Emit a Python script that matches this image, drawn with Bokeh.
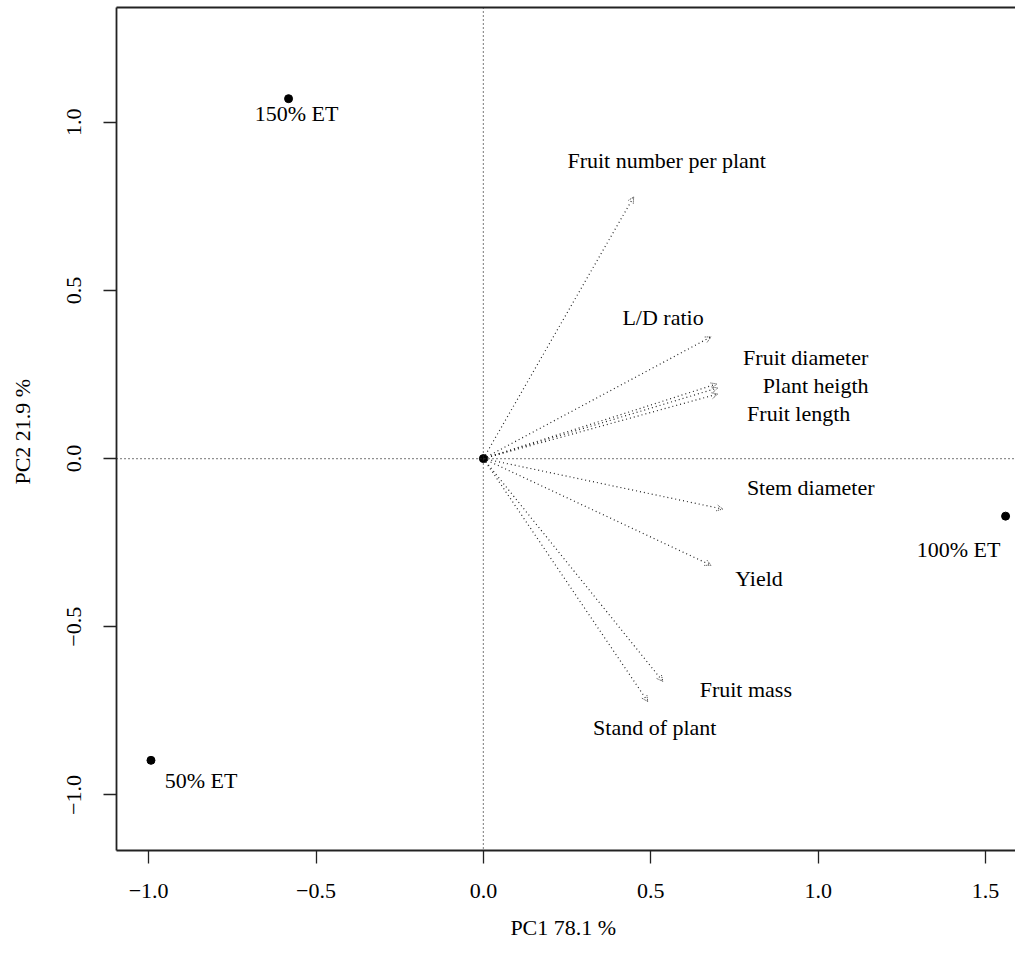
from bokeh.plotting import figure
from bokeh.models import (Arrow, OpenHead, LinearAxis, FixedTicker, Range1d,
                          ColumnDataSource, CustomJSTickFormatter, Span)
from bokeh.core.properties import value
from bokeh.embed import file_html
from bokeh.resources import INLINE

# ---- data ----
obs_names = ["150% ET", "50% ET", "100% ET"]
obs_pc1 = [-0.582, -0.993, 1.560]
obs_pc2 = [1.070, -0.897, -0.171]

var_names = ["Fruit number per plant", "L/D ratio", "Fruit diameter", "Plant heigth",
             "Fruit length", "Stem diameter", "Yield", "Fruit mass", "Stand of plant"]
var_pc1 = [0.449, 0.680, 0.697, 0.700, 0.700, 0.715, 0.680, 0.536, 0.491]
var_pc2 = [0.778, 0.362, 0.222, 0.210, 0.192, -0.150, -0.317, -0.662, -0.722]

x_ticks = [-1.0, -0.5, 0.0, 0.5, 1.0, 1.5]
y_ticks = [-1.0, -0.5, 0.0, 0.5, 1.0]
x_label = "PC1  78.1 %"
y_label = "PC2  21.9 %"

# ---- label placement (screen px offsets, styling only) ----
obs_dx = [8, 50, -47]
obs_dy = [15, 20, 33]
var_dx = [33, -48, 89, 98, 81, 88, 48, 83, 7]
var_dy = [-36, -19, -26, -2, 19, -22, 13, 8, 26]

FONT = "Liberation Serif"
FS = "22px"

p = figure(width=1015, height=942, output_backend="svg", toolbar_location=None,
           x_range=Range1d(-1.096, 1.5896), y_range=Range1d(-1.165, 1.341),
           min_border_left=116, min_border_right=0, min_border_top=7, min_border_bottom=0,
           x_axis_location=None, y_axis_location=None)
p.outline_line_color = None
p.xgrid.visible = False
p.ygrid.visible = False
p.background_fill_color = "white"
p.border_fill_color = "white"

fmt = CustomJSTickFormatter(code="return (tick < 0 ? '\\u2212' : '') + Math.abs(tick).toFixed(1);")

xa = LinearAxis(ticker=FixedTicker(ticks=x_ticks), formatter=fmt, axis_label=x_label)
ya = LinearAxis(ticker=FixedTicker(ticks=y_ticks), formatter=fmt, axis_label=y_label)
for ax in (xa, ya):
    ax.axis_line_width = 1.8
    ax.axis_line_color = "#222222"
    ax.major_tick_line_width = 1.3
    ax.major_tick_line_color = "#222222"
    ax.major_tick_out = 13
    ax.major_tick_in = 0
    ax.minor_tick_out = 0
    ax.minor_tick_in = 0
    ax.major_label_text_font = FONT
    ax.major_label_text_font_size = FS
    ax.major_label_text_color = "black"
    ax.axis_label_text_font = FONT
    ax.axis_label_text_font_size = FS
    ax.axis_label_text_font_style = "normal"
    ax.axis_label_text_color = "black"
xa.major_label_standoff = 20
xa.axis_label_standoff = 14
ya.major_label_standoff = 22
ya.axis_label_standoff = 30
ya.major_label_orientation = "parallel"
p.add_layout(xa, "below")
p.add_layout(ya, "left")

top = LinearAxis(ticker=FixedTicker(ticks=[]), major_tick_out=0, major_tick_in=0,
                 minor_tick_out=0, minor_tick_in=0, major_label_standoff=0,
                 major_label_text_font_size="0px", axis_line_width=1.8,
                 axis_line_color="#222222")
p.add_layout(top, "above")

p.add_layout(Span(location=0, dimension="width", line_dash="1 3", line_width=1.2, line_color="#222222"))
p.add_layout(Span(location=0, dimension="height", line_dash="1 3", line_width=1.2, line_color="#222222"))

# arrows
asrc = ColumnDataSource(dict(x0=[0] * len(var_pc1), y0=[0] * len(var_pc2), x1=var_pc1, y1=var_pc2))
p.add_layout(Arrow(source=asrc, x_start="x0", y_start="y0", x_end="x1", y_end="y1",
                   line_dash="1 3", line_width=1.2, line_color="#222222",
                   end=OpenHead(size=6, line_width=1, line_color="#333333", line_dash="1 1")))

vsrc = ColumnDataSource(dict(x=var_pc1, y=var_pc2, t=var_names, dx=var_dx, dy=var_dy))
p.text(x="x", y="y", text="t", x_offset="dx", y_offset="dy", source=vsrc,
       text_font=value(FONT), text_font_size=FS, text_align="center",
       text_baseline="middle", text_color="black")

# points
osrc = ColumnDataSource(dict(x=obs_pc1, y=obs_pc2, t=obs_names, dx=obs_dx, dy=obs_dy))
p.scatter(x="x", y="y", source=osrc, size=8, color="black")
p.scatter(x=[0], y=[0], size=8, color="black")
p.text(x="x", y="y", text="t", x_offset="dx", y_offset="dy", source=osrc,
       text_font=value(FONT), text_font_size=FS, text_align="center",
       text_baseline="middle", text_color="black")

open("out.html", "w").write(file_html(p, INLINE))
